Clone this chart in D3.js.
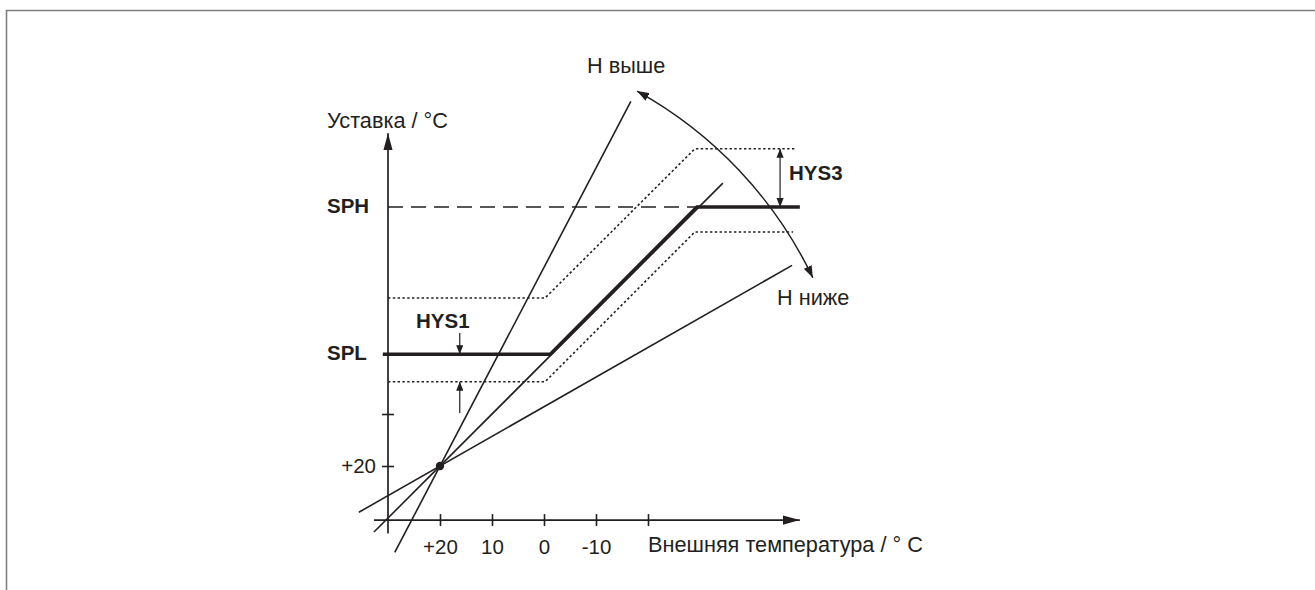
<!DOCTYPE html>
<html>

<head>
  <meta charset="utf-8">
  <title>Heating curve</title>
  <script src="https://cdn.jsdelivr.net/npm/d3@7/dist/d3.min.js"></script>
  <style>
    body { margin: 0; background: #fff; }
    text { font-family: "Liberation Sans", Arial, sans-serif; fill: #231f20; }
  </style>
</head>

<body>
  <script type="text/javascript">
    //Width and height
    var w = 1315;
    var h = 590;

    // x axis: outside temperature, y axis: setpoint (both in °C)
    var xTicks = [20, 10, 0, -10, -20];
    var xTickLabels = ["+20", "10", "0", "-10", ""];
    var yTicks = [20, 30];
    var yTickLabels = ["+20", ""];

    // heating curves through the (+20, +20) point
    var curveSlopes = [1.91, 1.0, 0.57];
    var curveFromT = [28.7, 32.7, 35.6];
    var curveToT = [-16.7, -34.4, -47.7];

    // resulting setpoint with SPL / SPH limits
    var spl = 41.5;
    var sph = 69.8;
    var setpointT = [31, -1.2, -29.4, -49.2];
    var setpointV = [spl, spl, sph, sph];
    var upperT = [30, -0.2, -29, -48.3];
    var upperV = [52.3, 52.3, 81, 81];
    var lowerT = [30, -0.2, -29, -47.9];
    var lowerV = [36.2, 36.2, 65, 65];

    // hysteresis arrows
    var hys1T = 16.2;
    var hys1V = [45.6, spl, 30.2, 36.2];
    var hys3T = -45.4;
    var hys3V = [81, sph];

    // curved arrow (H higher / H lower)
    var arcT = [-17.9, -51.7];
    var arcV = [92.1, 56.2];

    var axisT = 30;      // where the y axis sits
    var axisV = 9.6;     // where the x axis sits

    var x = d3.scaleLinear().domain([20, 0]).range([440, 544]);
    var y = d3.scaleLinear().domain([20, 30]).range([466, 414]);

    var svg = d3.select("body")
      .append("svg")
      .attr("width", w)
      .attr("height", h);

    var defs = svg.append("defs");
    function marker(id, len, half) {
      defs.append("marker")
        .attr("id", id)
        .attr("markerUnits", "userSpaceOnUse")
        .attr("viewBox", (-len) + " " + (-half) + " " + len + " " + (2 * half))
        .attr("refX", 0).attr("refY", 0)
        .attr("markerWidth", len).attr("markerHeight", 2 * half)
        .attr("orient", "auto-start-reverse")
        .append("path")
        .attr("d", "M0,0L" + (-len) + "," + (-half) + "L" + (-len) + "," + half + "Z")
        .attr("fill", "#231f20");
    }
    marker("big", 17, 4.6);
    marker("mid", 12, 4.4);
    marker("small", 9, 3.6);

    // frame
    svg.append("path")
      .attr("d", "M6.5," + h + "V10.5H" + w)
      .attr("fill", "none")
      .attr("stroke", "#808080")
      .attr("stroke-width", 1.6);

    var ink = "#231f20";
    var line = d3.line().x(function(d) { return x(d[0]); }).y(function(d) { return y(d[1]); });
    function zip(a, b) { return a.map(function(v, i) { return [v, b[i]]; }); }

    // axes
    var gx = svg.append("g")
      .attr("transform", "translate(0," + y(axisV) + ")")
      .call(d3.axisBottom(x).tickValues(xTicks).tickFormat(function(d, i) { return xTickLabels[i]; }).tickSize(6));
    gx.select(".domain").remove();
    gx.selectAll(".tick line").attr("y1", -6).attr("y2", 6).attr("stroke", ink).attr("stroke-width", 1.6);
    gx.selectAll(".tick text").attr("y", 19).attr("font-size", 20.5).attr("font-family", null).attr("fill", null);

    var gy = svg.append("g")
      .attr("transform", "translate(" + x(axisT) + ",0)")
      .call(d3.axisLeft(y).tickValues(yTicks).tickFormat(function(d, i) { return yTickLabels[i]; }).tickSize(6));
    gy.select(".domain").remove();
    gy.selectAll(".tick line").attr("x1", 6).attr("x2", -6).attr("stroke", ink).attr("stroke-width", 1.6);
    gy.selectAll(".tick text").attr("x", -12).attr("font-size", 20.5).attr("font-family", null).attr("fill", null);

    svg.append("line")
      .attr("x1", x(32.7)).attr("x2", x(-49.2))
      .attr("y1", y(axisV)).attr("y2", y(axisV))
      .attr("stroke", ink).attr("stroke-width", 1.7)
      .attr("marker-end", "url(#big)");
    svg.append("line")
      .attr("x1", x(axisT)).attr("x2", x(axisT))
      .attr("y1", y(7)).attr("y2", y(84))
      .attr("stroke", ink).attr("stroke-width", 1.7)
      .attr("marker-end", "url(#big)");

    // SPH dashed
    svg.append("path")
      .attr("d", line([[axisT, sph], [setpointT[2], sph]]))
      .attr("fill", "none").attr("stroke", ink).attr("stroke-width", 1.6)
      .attr("stroke-dasharray", "15,8");

    // heating curves
    curveSlopes.forEach(function(s, i) {
      var pts = [curveFromT[i], curveToT[i]].map(function(t) { return [t, 20 + s * (20 - t)]; });
      svg.append("path")
        .attr("d", line(pts))
        .attr("fill", "none").attr("stroke", ink).attr("stroke-width", 1.6);
    });

    // hysteresis band
    [zip(upperT, upperV), zip(lowerT, lowerV)].forEach(function(pts) {
      svg.append("path")
        .attr("d", line(pts))
        .attr("fill", "none").attr("stroke", ink).attr("stroke-width", 1.6)
        .attr("stroke-dasharray", "2.4,2.4");
    });

    // setpoint
    svg.append("path")
      .attr("d", line(zip(setpointT, setpointV)))
      .attr("fill", "none").attr("stroke", ink).attr("stroke-width", 3.4);

    // hysteresis arrows
    [[hys1V[0], hys1V[1]], [hys1V[2], hys1V[3]]].forEach(function(v) {
      svg.append("line")
        .attr("x1", x(hys1T)).attr("x2", x(hys1T))
        .attr("y1", y(v[0])).attr("y2", y(v[1]))
        .attr("stroke", ink).attr("stroke-width", 1.2)
        .attr("marker-end", "url(#small)");
    });
    svg.append("line")
      .attr("x1", x(hys3T)).attr("x2", x(hys3T))
      .attr("y1", y(hys3V[0])).attr("y2", y(hys3V[1]))
      .attr("stroke", ink).attr("stroke-width", 1.2)
      .attr("marker-start", "url(#small)")
      .attr("marker-end", "url(#small)");

    // curved arrow centred on the (+20, +20) point
    var cx = x(20), cy = y(20);
    var p0 = [x(arcT[0]), y(arcV[0])], p1 = [x(arcT[1]), y(arcV[1])];
    var r = (Math.hypot(p0[0] - cx, p0[1] - cy) + Math.hypot(p1[0] - cx, p1[1] - cy)) / 2;
    svg.append("path")
      .attr("d", "M" + p0 + "A" + r + "," + r + " 0 0 1 " + p1)
      .attr("fill", "none").attr("stroke", ink).attr("stroke-width", 1.5)
      .attr("marker-start", "url(#mid)")
      .attr("marker-end", "url(#mid)");

    svg.append("circle")
      .attr("cx", cx).attr("cy", cy).attr("r", 4.2)
      .attr("fill", ink);

    // labels
    var labels = [
      { t: "Уставка / °C", x: 327, y: 128, b: false },
      { t: "Внешняя температура / ° C", x: 648, y: 552, b: false },
      { t: "H выше", x: 587, y: 73, b: false },
      { t: "H ниже", x: 777, y: 305, b: false },
      { t: "SPH", x: 327, y: 213, b: true },
      { t: "SPL", x: 327, y: 360, b: true },
      { t: "HYS1", x: 416, y: 328, b: true },
      { t: "HYS3", x: 789, y: 180, b: true }
    ];
    svg.selectAll("text.lbl")
      .data(labels)
      .enter()
      .append("text")
      .attr("class", "lbl")
      .attr("x", function(d) { return d.x; })
      .attr("y", function(d) { return d.y; })
      .attr("font-size", function(d) { return d.b ? 20.5 : 21.7; })
      .attr("font-weight", function(d) { return d.b ? "bold" : "normal"; })
      .text(function(d) { return d.t; });
  </script>

</body>

</html>
